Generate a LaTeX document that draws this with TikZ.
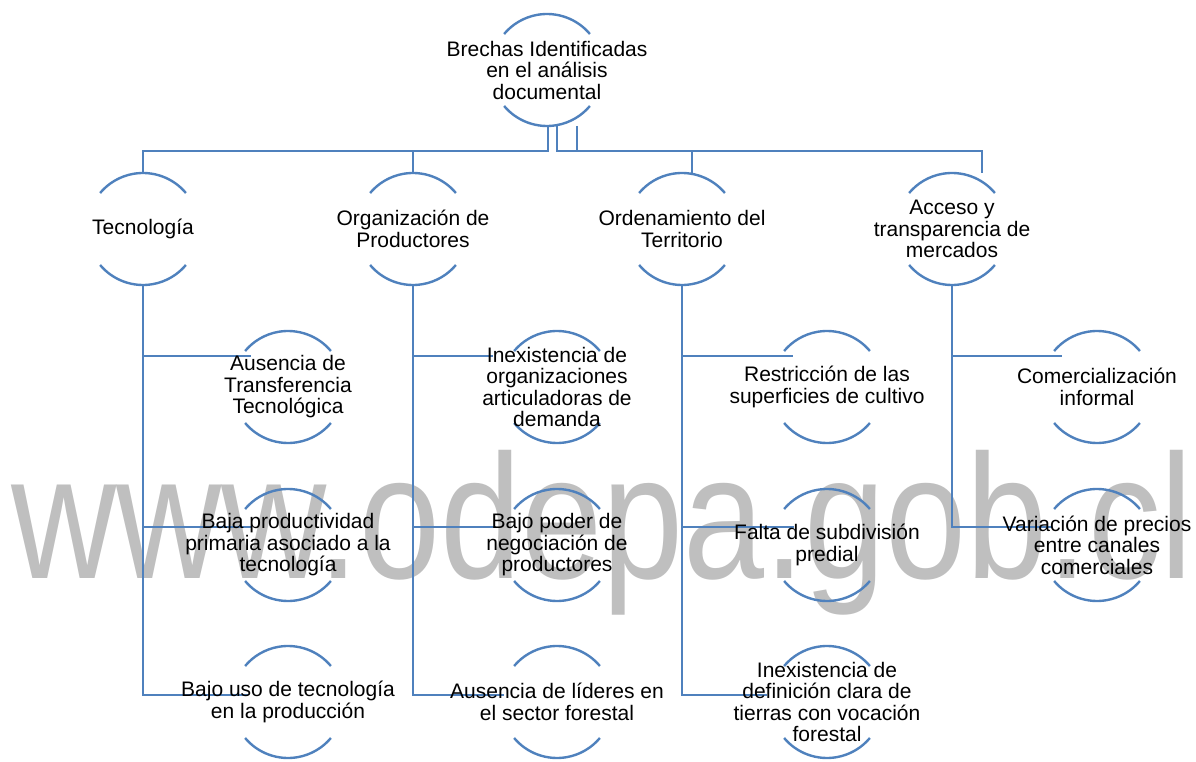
\documentclass[tikz,border=0pt]{standalone}
\usepackage{fontspec}
\setmainfont{Liberation Sans}
\usetikzlibrary{positioning}
\definecolor{smblue}{RGB}{79,129,189}
\definecolor{wmgray}{RGB}{191,191,191}
\tikzset{
  bubble/.style={circle,minimum size=112pt,inner sep=0pt,outer sep=0pt},
  lbl/.style={align=center,inner sep=0pt,font=\fontsize{21}{21.5}\selectfont},
  link/.style={draw=smblue,line width=2.4pt},
  rim/.style={draw=smblue,line width=2.4pt}
}
\begin{document}
\begin{tikzpicture}[x=1pt,y=1pt]
    \useasboundingbox (0,0) rectangle (1196,761);
    % marca de agua
    \node[anchor=base west,text=wmgray,xscale=0.823,inner sep=0pt,
          font=\fontsize{177}{177}\selectfont] (wm) at (11,183) {www.odepa.gob.cl};
    % circulos
    \node[bubble] (root) at (547,691) {};
    \node[bubble] (tec) at (143,532) {};
    \node[bubble] (org) at (413,532) {};
    \node[bubble] (ord) at (682,532) {};
    \node[bubble] (acc) at (952,532) {};
    \node[bubble] (tecA) at (288,374) {};
    \node[bubble] (tecB) at (288,216) {};
    \node[bubble] (tecC) at (288,59) {};
    \node[bubble] (orgA) at (557,374) {};
    \node[bubble] (orgB) at (557,216) {};
    \node[bubble] (orgC) at (557,59) {};
    \node[bubble] (ordA) at (827,374) {};
    \node[bubble] (ordB) at (827,216) {};
    \node[bubble] (ordC) at (827,59) {};
    \node[bubble] (accA) at (1097,374) {};
    \node[bubble] (accB) at (1097,216) {};
    % conectores nivel 1
    \draw[link] ([xshift=1pt]root.south) -- ++(0,-25) -| (tec.north);
    \draw[link] ([xshift=1pt]root.south) -- ++(0,-25) -| (org.north);
    \draw[link] ([xshift=10pt]root.south) -- ++(0,-25) -| ([xshift=10pt]ord.north);
    \draw[link] ([xshift=30pt]root.south) -- ++(0,-25) -| ([xshift=30pt]acc.north);
    % conectores nivel 2
    \draw[link] (tec.south) |- ([xshift=-37pt,yshift=31pt]tecA.center);
    \draw[link] (tec.south) |- ([xshift=-37pt,yshift=18pt]tecB.center);
    \draw[link] (tec.south) |- ([xshift=-40pt,yshift=7pt]tecC.center);
    \draw[link] (org.south) |- ([xshift=-64pt,yshift=31pt]orgA.center);
    \draw[link] (org.south) |- ([xshift=-61pt,yshift=18pt]orgB.center);
    \draw[link] (org.south) |- ([xshift=-53pt,yshift=7pt]orgC.center);
    \draw[link] (ord.south) |- ([xshift=-34pt,yshift=31pt]ordA.center);
    \draw[link] (ord.south) |- ([xshift=-33pt,yshift=18pt]ordB.center);
    \draw[link] (ord.south) |- ([xshift=-60pt,yshift=7pt]ordC.center);
    \draw[link] (acc.south) |- ([xshift=-35pt,yshift=31pt]accA.center);
    \draw[link] (acc.south) |- ([xshift=-45pt,yshift=18pt]accB.center);
    % arcos
    \foreach \n in {root,tec,org,ord,acc,tecA,tecB,tecC,orgA,orgB,orgC,ordA,ordB,ordC,accA,accB}{
      \draw[rim] (\n.40) arc[start angle=40,end angle=140,radius=56pt];
      \draw[rim] (\n.220) arc[start angle=220,end angle=320,radius=56pt];
    }
    % textos
    \node[lbl] (root-t) at (root) {Brechas Identificadas\\en el análisis\\documental};
    \node[lbl] (tec-t) at (tec) {Tecnología};
    \node[lbl] (org-t) at (org) {Organización de\\Productores};
    \node[lbl] (ord-t) at (ord) {Ordenamiento del\\Territorio};
    \node[lbl] (acc-t) at (acc) {Acceso y\\transparencia de\\mercados};
    \node[lbl] (tecA-t) at (tecA) {Ausencia de\\Transferencia\\Tecnológica};
    \node[lbl] (tecB-t) at (tecB) {Baja productividad\\primaria asociado a la\\tecnología};
    \node[lbl] (tecC-t) at (tecC) {Bajo uso de tecnología\\en la producción};
    \node[lbl] (orgA-t) at (orgA) {Inexistencia de\\organizaciones\\articuladoras de\\demanda};
    \node[lbl] (orgB-t) at (orgB) {Bajo poder de\\negociación de\\productores};
    \node[lbl] (orgC-t) at (orgC) {Ausencia de líderes en\\el sector forestal};
    \node[lbl] (ordA-t) at (ordA) {Restricción de las\\superficies de cultivo};
    \node[lbl] (ordB-t) at (ordB) {Falta de subdivisión\\predial};
    \node[lbl] (ordC-t) at (ordC) {Inexistencia de\\definición clara de\\tierras con vocación\\forestal};
    \node[lbl] (accA-t) at (accA) {Comercialización\\informal};
    \node[lbl] (accB-t) at (accB) {Variación de precios\\entre canales\\comerciales};
\end{tikzpicture}
\end{document}
